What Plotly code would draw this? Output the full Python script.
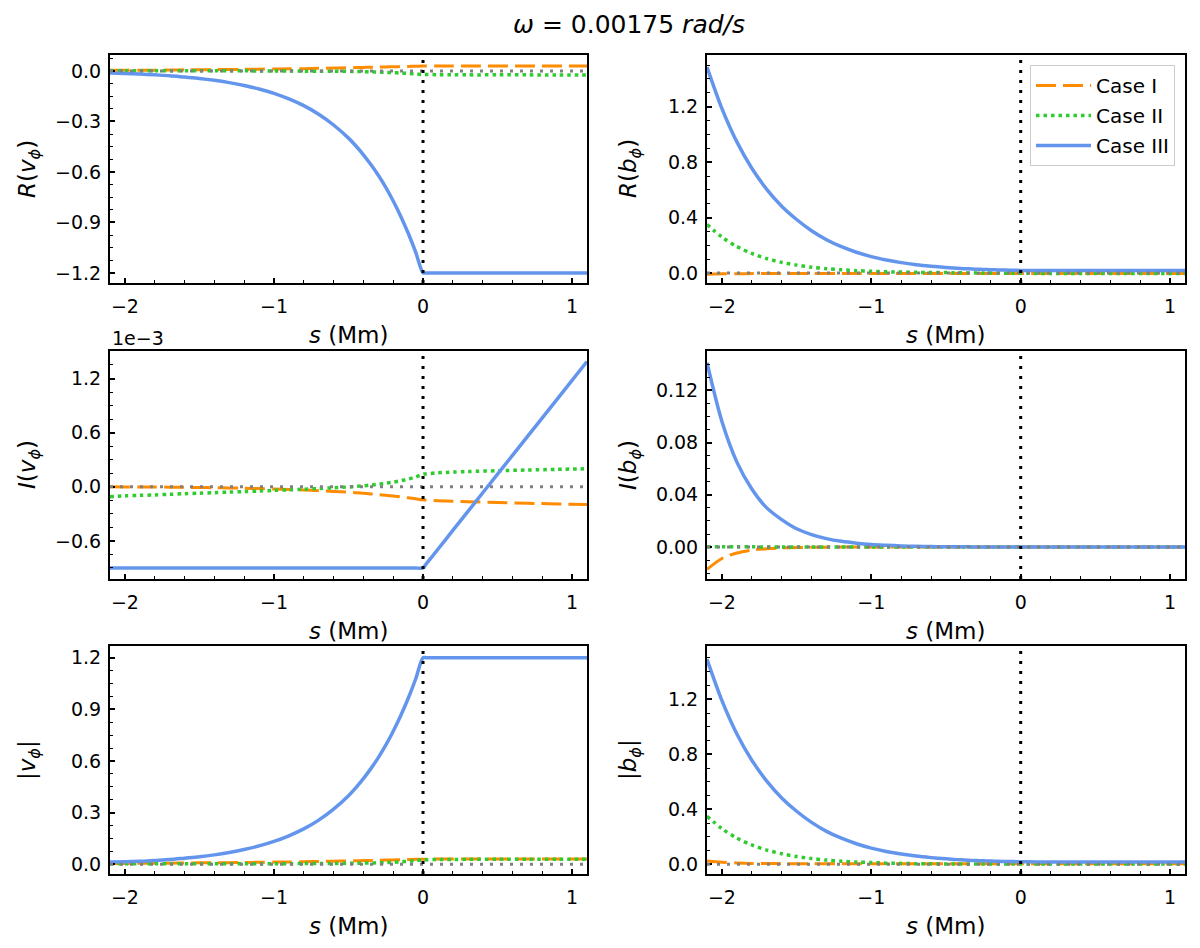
import plotly.graph_objects as go
from plotly.subplots import make_subplots

# position along the loop, s (Mm)
s = [-2.1, -2.0, -1.9, -1.8, -1.7, -1.6, -1.5, -1.4, -1.3, -1.2, -1.1, -1.0,
     -0.9, -0.8, -0.7, -0.6, -0.5, -0.45, -0.4, -0.35, -0.3, -0.25, -0.2,
     -0.15, -0.1, -0.05, 0.0, 0.02, 0.1, 0.2, 0.3, 0.5, 0.7, 0.9, 1.1]

# real part of v_phi
rv_case1 = [0.004, 0.004, 0.005, 0.005, 0.006, 0.007, 0.008, 0.008, 0.009, 0.010, 0.011, 0.012,
            0.013, 0.014, 0.016, 0.017, 0.019, 0.020, 0.021, 0.022, 0.023, 0.024, 0.025,
            0.026, 0.027, 0.028, 0.029, 0.030, 0.030, 0.030, 0.030, 0.030, 0.030, 0.030, 0.030]
rv_case2 = [0.002, 0.002, 0.002, 0.002, 0.002, 0.001, 0.001, 0.001, 0.001, 0.001, 0.000, 0.000,
            0.000, -0.001, -0.001, -0.001, -0.002, -0.003, -0.004, -0.005, -0.006, -0.008, -0.010,
            -0.012, -0.015, -0.018, -0.021, -0.021, -0.022, -0.022, -0.023, -0.023, -0.023, -0.024, -0.024]
rv_case3 = [-0.012, -0.015, -0.018, -0.023, -0.028, -0.036, -0.044, -0.055, -0.069, -0.086, -0.107, -0.133,
            -0.166, -0.206, -0.257, -0.321, -0.399, -0.446, -0.498, -0.556, -0.620, -0.692, -0.773,
            -0.863, -0.963, -1.075, -1.2, -1.2, -1.2, -1.2, -1.2, -1.2, -1.2, -1.2, -1.2]

# real part of b_phi
rb_case1 = [-0.008, -0.006, -0.005, -0.004, -0.004, -0.004, -0.004, -0.004, -0.004, -0.004, -0.004, -0.004,
            -0.004, -0.004, -0.004, -0.004, -0.004, -0.004, -0.004, -0.004, -0.004, -0.004, -0.004,
            -0.004, -0.004, -0.004, -0.004, -0.004, -0.004, -0.004, -0.004, -0.004, -0.004, -0.004, -0.004]
rb_case2 = [0.350, 0.259, 0.191, 0.141, 0.104, 0.077, 0.057, 0.042, 0.031, 0.023, 0.017, 0.013,
            0.009, 0.007, 0.005, 0.004, 0.003, 0.002, 0.002, 0.001, 0.001, 0.000, 0.000,
            -0.001, -0.001, -0.002, -0.002, -0.002, -0.003, -0.003, -0.003, -0.003, -0.003, -0.003, -0.003]
rb_case3 = [1.486, 1.186, 0.946, 0.756, 0.604, 0.482, 0.386, 0.305, 0.240, 0.190, 0.150, 0.118,
            0.094, 0.075, 0.060, 0.049, 0.040, 0.036, 0.033, 0.030, 0.028, 0.026, 0.024,
            0.022, 0.021, 0.020, 0.019, 0.019, 0.018, 0.018, 0.018, 0.018, 0.018, 0.018, 0.018]

# imaginary part of v_phi, in units of 1e-3
iv_case1 = [0.000, -0.001, -0.002, -0.003, -0.004, -0.006, -0.008, -0.010, -0.013, -0.016, -0.020, -0.025,
            -0.030, -0.036, -0.043, -0.051, -0.060, -0.066, -0.072, -0.079, -0.086, -0.094, -0.103,
            -0.112, -0.122, -0.133, -0.145, -0.147, -0.155, -0.161, -0.166, -0.175, -0.183, -0.190, -0.197]
iv_case2 = [-0.110, -0.100, -0.095, -0.090, -0.083, -0.077, -0.071, -0.065, -0.059, -0.053, -0.047, -0.040,
            -0.034, -0.027, -0.019, -0.011, -0.002, 0.004, 0.011, 0.019, 0.028, 0.039, 0.052,
            0.067, 0.085, 0.108, 0.140, 0.143, 0.155, 0.163, 0.169, 0.178, 0.186, 0.193, 0.200]
iv_case3 = [-0.9, -0.9, -0.9, -0.9, -0.9, -0.9, -0.9, -0.9, -0.9, -0.9, -0.9, -0.9,
            -0.9, -0.9, -0.9, -0.9, -0.9, -0.9, -0.9, -0.9, -0.9, -0.9, -0.9,
            -0.9, -0.9, -0.9, -0.9, -0.858, -0.692, -0.484, -0.276, 0.140, 0.556, 0.972, 1.388]

# imaginary part of b_phi
ib_case1 = [-0.017, -0.0087, -0.0045, -0.0023, -0.0012, -0.0006, -0.0003, -0.0002, -0.0001, 0.0, 0.0, 0.0,
            0.0, 0.0, 0.0, 0.0, 0.0, 0.0, 0.0, 0.0, 0.0, 0.0, 0.0,
            0.0, 0.0, 0.0, 0.0, 0.0, 0.0, 0.0, 0.0, 0.0, 0.0, 0.0, 0.0]
ib_case2 = [0.0002, 0.0002, 0.0002, 0.0002, 0.0001, 0.0001, 0.0001, 0.0001, 0.0, 0.0, 0.0, 0.0,
            0.0, 0.0, 0.0, 0.0, 0.0, 0.0, 0.0, 0.0, 0.0, 0.0, 0.0,
            0.0, 0.0, 0.0, 0.0, 0.0, 0.0, 0.0, 0.0, 0.0, 0.0, 0.0, 0.0]
ib_case3 = [0.141, 0.096, 0.065, 0.0445, 0.030, 0.021, 0.014, 0.0096, 0.0065, 0.0044, 0.003, 0.002,
            0.0014, 0.0009, 0.0006, 0.0004, 0.0003, 0.0002, 0.0002, 0.0002, 0.0001, 0.0001, 0.0001,
            0.0001, 0.0001, 0.0001, 0.0001, 0.0001, 0.0001, 0.0001, 0.0001, 0.0001, 0.0001, 0.0001, 0.0001]

# |v_phi|
av_case1 = [0.005, 0.005, 0.006, 0.006, 0.007, 0.008, 0.009, 0.009, 0.010, 0.011, 0.012, 0.013,
            0.014, 0.015, 0.017, 0.018, 0.020, 0.021, 0.022, 0.023, 0.024, 0.025, 0.026,
            0.027, 0.028, 0.029, 0.030, 0.030, 0.031, 0.031, 0.031, 0.031, 0.031, 0.031, 0.031]
av_case2 = [0.003, 0.003, 0.003, 0.003, 0.003, 0.003, 0.003, 0.003, 0.004, 0.004, 0.004, 0.004,
            0.004, 0.005, 0.005, 0.005, 0.006, 0.006, 0.007, 0.008, 0.009, 0.010, 0.012,
            0.015, 0.018, 0.022, 0.027, 0.027, 0.028, 0.028, 0.029, 0.029, 0.029, 0.029, 0.029]
av_case3 = [0.013, 0.015, 0.018, 0.023, 0.028, 0.036, 0.044, 0.055, 0.069, 0.086, 0.107, 0.133,
            0.166, 0.206, 0.257, 0.321, 0.399, 0.446, 0.498, 0.556, 0.620, 0.692, 0.773,
            0.863, 0.963, 1.075, 1.2, 1.2, 1.2, 1.2, 1.2, 1.2, 1.2, 1.2, 1.2]

# |b_phi|
ab_case1 = [0.025, 0.016, 0.010, 0.007, 0.006, 0.005, 0.004, 0.004, 0.004, 0.004, 0.004, 0.004,
            0.004, 0.004, 0.004, 0.004, 0.004, 0.004, 0.004, 0.004, 0.004, 0.004, 0.004,
            0.004, 0.004, 0.004, 0.004, 0.004, 0.004, 0.004, 0.004, 0.004, 0.004, 0.004, 0.004]
ab_case2 = [0.350, 0.259, 0.191, 0.141, 0.104, 0.077, 0.057, 0.042, 0.031, 0.023, 0.017, 0.013,
            0.009, 0.007, 0.005, 0.004, 0.003, 0.003, 0.003, 0.003, 0.003, 0.003, 0.003,
            0.003, 0.003, 0.003, 0.003, 0.003, 0.003, 0.003, 0.003, 0.003, 0.003, 0.003, 0.003]
ab_case3 = [1.490, 1.190, 0.948, 0.757, 0.605, 0.483, 0.386, 0.305, 0.240, 0.190, 0.150, 0.118,
            0.094, 0.075, 0.060, 0.049, 0.040, 0.036, 0.033, 0.030, 0.028, 0.026, 0.024,
            0.022, 0.021, 0.020, 0.019, 0.019, 0.018, 0.018, 0.018, 0.018, 0.018, 0.018, 0.018]

case_names = ["Case I", "Case II", "Case III"]

# the page body adds an 8px margin, so the figure is laid out in page pixels minus 8
PAD = 8
W, H = 1184, 932
FONT = "DejaVu Sans"


def xp(px):
    return (px - PAD) / W


def yp(px):
    return 1 - (px - PAD) / H


col_px = [(110, 587), (707, 1185)]
row_px = [(55, 283), (351, 579), (646, 874)]

styles = [
    dict(color="#ff8c00", width=3, dash="20px,7px"),
    dict(color="#2ecc2e", width=3.5, dash="3.5px,4px"),
    dict(color="#6495ed", width=3.5),
]

panels = [
    # row, col, series, y range, dtick, minor dtick, format, label
    (1, 1, [rv_case1, rv_case2, rv_case3], [-1.26, 0.095], 0.3, 0.075, ".1f",
     "<i>R</i>(<i>v</i><sub><i>ϕ</i></sub>)"),
    (1, 2, [rb_case1, rb_case2, rb_case3], [-0.072, 1.573], 0.4, 0.1, ".1f",
     "<i>R</i>(<i>b</i><sub><i>ϕ</i></sub>)"),
    (2, 1, [iv_case1, iv_case2, iv_case3], [-1.022, 1.505], 0.6, 0.15, ".1f",
     "<i>I</i>(<i>v</i><sub><i>ϕ</i></sub>)"),
    (2, 2, [ib_case1, ib_case2, ib_case3], [-0.0244, 0.150], 0.04, 0.01, ".2f",
     "<i>I</i>(<i>b</i><sub><i>ϕ</i></sub>)"),
    (3, 1, [av_case1, av_case2, av_case3], [-0.056, 1.268], 0.3, 0.075, ".1f",
     "|<i>v</i><sub><i>ϕ</i></sub>|"),
    (3, 2, [ab_case1, ab_case2, ab_case3], [-0.070, 1.587], 0.4, 0.1, ".1f",
     "|<i>b</i><sub><i>ϕ</i></sub>|"),
]

fig = make_subplots(rows=3, cols=2)
annotations = []

for r, c, series, yr, dt, mdt, fmt, label in panels:
    for name, ys, st in zip(case_names, series, styles):
        fig.add_trace(go.Scatter(
            x=s, y=ys, mode="lines", name=name, line=st,
            line_shape="spline", line_smoothing=0.8,
            showlegend=(r == 1 and c == 2), legendgroup=name), row=r, col=c)

    fig.add_hline(y=0, line=dict(color="gray", width=3, dash="3px,7px"), row=r, col=c)
    fig.add_vline(x=0, line=dict(color="black", width=3, dash="3px,7px"), row=r, col=c)

    x0, x1 = col_px[c - 1]
    y0, y1 = row_px[r - 1]

    common = dict(showline=True, linecolor="black", linewidth=2, mirror=True,
                  ticks="inside", ticklen=5, tickwidth=1.5, tickcolor="black",
                  showgrid=False, zeroline=False,
                  tickfont=dict(family=FONT, size=19, color="black"))
    fig.update_xaxes(domain=[xp(x0), xp(x1)], range=[-2.1, 1.1], tick0=0, dtick=1,
                     minor=dict(ticks="inside", ticklen=3, tickwidth=1, tickcolor="black", dtick=0.2, tick0=0),
                     ticklabelstandoff=5, row=r, col=c, **common)
    fig.update_yaxes(domain=[yp(y1), yp(y0)], range=yr, tick0=0, dtick=dt, tickformat=fmt,
                     minor=dict(ticks="inside", ticklen=3, tickwidth=1, tickcolor="black", dtick=mdt, tick0=0),
                     ticklabelstandoff=3, row=r, col=c, **common)

    # axis labels
    annotations.append(dict(text="<i>s</i> (Mm)", x=xp((x0 + x1) / 2), y=yp(y1 + 52),
                            xanchor="center", yanchor="middle",
                            xref="paper", yref="paper", showarrow=False,
                            font=dict(family=FONT, size=23, color="black")))
    annotations.append(dict(text=label, x=xp(29 if c == 1 else 630), y=yp((y0 + y1) / 2),
                            xanchor="center", yanchor="middle",
                            xref="paper", yref="paper", showarrow=False, textangle=-90,
                            font=dict(family=FONT, size=23, color="black")))

# offset text of the I(v_phi) axis
annotations.append(dict(text="1e−3", x=xp(110), y=yp(338), xref="paper", yref="paper",
                        xanchor="left", yanchor="middle", showarrow=False,
                        font=dict(family=FONT, size=19, color="black")))
# figure title
annotations.append(dict(text="<i>ω</i> = 0.00175 <i>rad/s</i>", x=xp(629), y=1,
                        xref="paper", yref="paper", xanchor="center", yanchor="top",
                        showarrow=False, font=dict(family=FONT, size=25, color="black")))

fig.update_layout(
    width=W, height=H,
    margin=dict(l=0, r=0, t=0, b=0),
    paper_bgcolor="white", plot_bgcolor="white",
    font=dict(family=FONT, color="black"),
    annotations=list(fig.layout.annotations) + annotations,
    legend=dict(x=xp(1175), y=yp(65), xanchor="right", yanchor="top",
                bgcolor="rgba(255,255,255,0.85)", bordercolor="#cccccc", borderwidth=1,
                font=dict(family=FONT, size=20, color="black"),
                itemwidth=55, tracegroupgap=1),
)

fig.write_html("out.html")
